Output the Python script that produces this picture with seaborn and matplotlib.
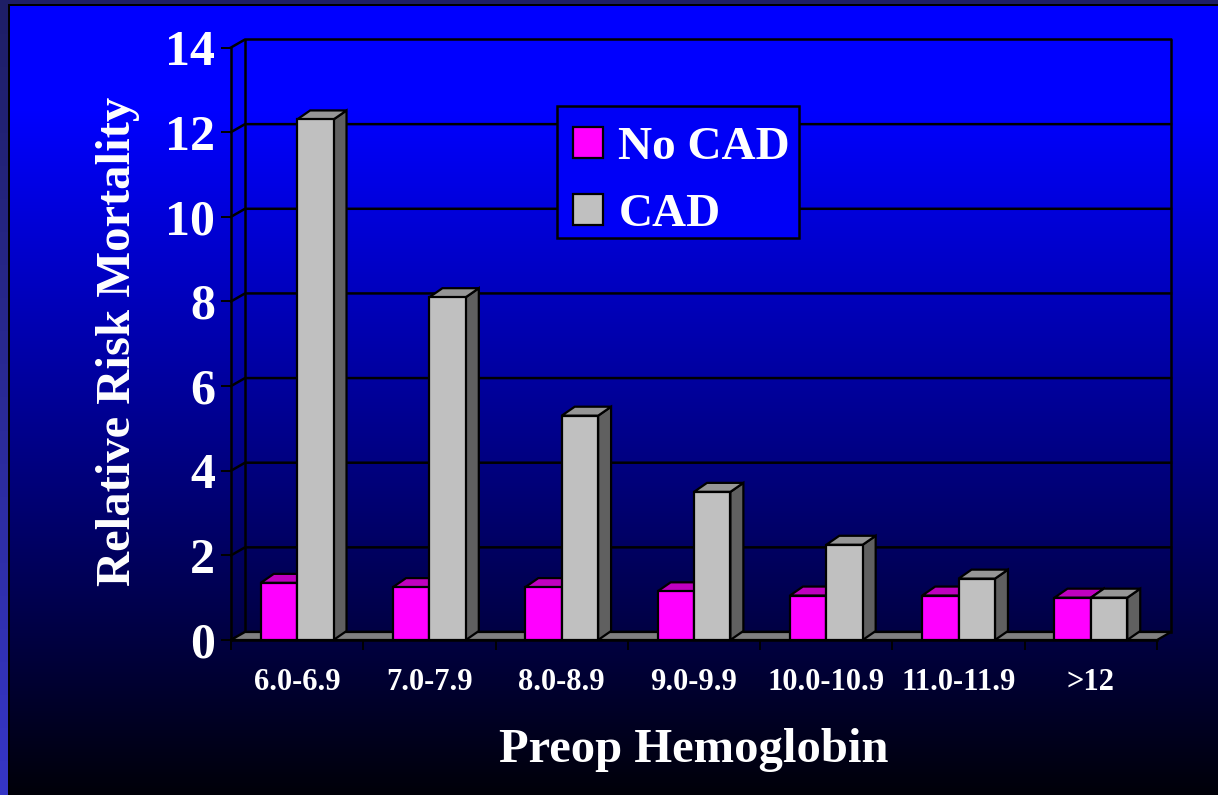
import numpy as np
import pandas as pd
import matplotlib
matplotlib.use("Agg")
import matplotlib.pyplot as plt
import seaborn as sns
from matplotlib.patches import Polygon, Patch, Rectangle

# Relative risk of mortality by preoperative hemoglobin band
bands = ["6.0-6.9", "7.0-7.9", "8.0-8.9", "9.0-9.9", "10.0-10.9", "11.0-11.9", ">12"]
no_cad = [1.35, 1.25, 1.25, 1.15, 1.05, 1.05, 1.0]
cad = [12.3, 8.1, 5.3, 3.5, 2.25, 1.45, 1.0]
groups = ["No CAD", "CAD"]
y_ticks = [0, 2, 4, 6, 8, 10, 12, 14]

df = pd.DataFrame({
    "band": bands * 2,
    "group": [groups[0]] * len(bands) + [groups[1]] * len(bands),
    "rr": no_cad + cad,
})

front = {"No CAD": "#ff00ff", "CAD": "#c0c0c0"}
top = {"No CAD": "#c000c0", "CAD": "#969696"}
side = {"No CAD": "#800080", "CAD": "#606060"}

plt.rcParams["font.family"] = ["Liberation Serif", "DejaVu Serif"]
plt.rcParams["font.weight"] = "bold"
plt.rcParams["axes.labelweight"] = "bold"

W, H = 1218, 795
fig = plt.figure(figsize=(W / 100, H / 100), dpi=100)

# slide background: blue-to-black vertical gradient with a framed edge
img = np.zeros((H, W, 3))
rows = np.arange(H)
blue = np.clip(255 - (rows - 110) * 0.36, 8, 255) / 255
img[:, :, 2] = blue[:, None]
img[:4, :, :] = np.array([0x1e, 0x1e, 0x66]) / 255
img[4:6, :, :] = 0
t = rows / (H - 1)
c0 = np.array([0x1e, 0x1e, 0x66]) / 255
c1 = np.array([0x36, 0x36, 0xc6]) / 255
img[:, :8, :] = ((1 - t)[:, None] * c0 + t[:, None] * c1)[:, None, :]
img[4:, 8:10, :] = 0
bg = fig.add_axes([0, 0, 1, 1])
bg.imshow(img, aspect="auto", interpolation="nearest")
bg.axis("off")

# plot area (front plane of the 3-D box)
x0p, x1p, y0p, y1p = 231, 1157, 640, 47.5
ax = fig.add_axes([x0p / W, (H - y0p) / H, (x1p - x0p) / W, (y0p - y1p) / H])
ax.set_facecolor("none")

sns.barplot(data=df, x="band", y="rr", hue="group", order=bands, hue_order=groups,
            palette=front, saturation=1, width=0.55, edgecolor="black",
            linewidth=1.6, errorbar=None, legend=False, ax=ax)
bars = [p for p in ax.patches if isinstance(p, Rectangle) and p.get_height() > 0]
ax.set_xlim(-0.5, len(bands) - 0.5)
ax.set_ylim(0, 14)

px_x = ax.bbox.width / len(bands)
px_y = ax.bbox.height / 14
wdx, wdy = 14 / px_x, 8 / px_y   # depth of walls / floor
bdx, bdy = 13 / px_x, 9 / px_y   # depth of the columns

lk = dict(color="black", lw=1.8, clip_on=False, solid_capstyle="projecting")
xl, xr = -0.5, len(bands) - 0.5

# floor
ax.add_patch(Polygon([(xl, 0), (xr, 0), (xr + wdx, wdy), (xl + wdx, wdy)],
                     closed=True, facecolor="#808080", edgecolor="black",
                     lw=1.6, zorder=1.5, clip_on=False))
# back and side walls with gridlines
for v in y_ticks:
    ax.plot([xl, xl + wdx, xr + wdx], [v, v + wdy, v + wdy], zorder=1, **lk)
ax.plot([xl + wdx, xl + wdx], [wdy, 14 + wdy], zorder=1, **lk)
ax.plot([xr + wdx, xr + wdx], [wdy, 14 + wdy], zorder=1, **lk)

# 3-D column tops and sides
for p in bars:
    fc = p.get_facecolor()
    g = "No CAD" if fc[1] < 0.5 else "CAD"
    bx, bw, bh = p.get_x(), p.get_width(), p.get_height()
    ax.add_patch(Polygon([(bx + bw, 0), (bx + bw + bdx, bdy), (bx + bw + bdx, bh + bdy), (bx + bw, bh)],
                         closed=True, facecolor=side[g], edgecolor="black", lw=1.6, zorder=2.5))
    ax.add_patch(Polygon([(bx, bh), (bx + bw, bh), (bx + bw + bdx, bh + bdy), (bx + bdx, bh + bdy)],
                         closed=True, facecolor=top[g], edgecolor="black", lw=1.6, zorder=2.5))
    p.set_zorder(3)

for s in ["top", "right"]:
    ax.spines[s].set_visible(False)
for s in ["left", "bottom"]:
    ax.spines[s].set_color("black")
    ax.spines[s].set_linewidth(1.8)
    ax.spines[s].set_zorder(3.5)

ax.set_yticks(y_ticks)
ax.set_yticklabels([str(v) for v in y_ticks])
ax.tick_params(axis="y", direction="out", length=7.5, width=1.4, color="black",
               labelsize=36, labelcolor="white", pad=4)
ax.set_xticks(range(len(bands)))
ax.set_xticklabels(bands)
ax.tick_params(axis="x", which="major", length=0, pad=20, labelsize=22, labelcolor="white")
ax.set_xticks(np.arange(-0.5, len(bands), 1), minor=True)
ax.tick_params(axis="x", which="minor", direction="out", length=7, width=1.4, color="black")

ax.set_xlabel("Preop Hemoglobin", fontsize=35, color="white", va="center")
ax.xaxis.set_label_coords(0.5, (y0p - 750) / (y0p - y1p))
ax.set_ylabel("Relative Risk Mortality", fontsize=35, color="white", va="center")
ax.yaxis.set_label_coords((118 - x0p) / (x1p - x0p), (y0p - 341) / (y0p - y1p))

# legend box and entries
ax.add_artist(Rectangle((557 / W, 1 - 238 / H), 242 / W, 132 / H, transform=fig.transFigure,
                        facecolor="#0000f6", edgecolor="black", lw=1.8, clip_on=False, zorder=4))
handles = [Patch(facecolor=front[g], edgecolor="black", lw=1.6, label=g) for g in groups]
leg = ax.legend(handles=handles, loc="upper left",
                bbox_to_anchor=(573 / W, 1 - 127 / H), bbox_transform=fig.transFigure,
                borderaxespad=0, borderpad=0, fontsize=34, frameon=False,
                handlelength=0.64, handleheight=0.64, handletextpad=0.32,
                labelspacing=0.53)
leg.set_zorder(5)
for txt in leg.get_texts():
    txt.set_color("white")

fig.savefig("out.png", dpi=100)
